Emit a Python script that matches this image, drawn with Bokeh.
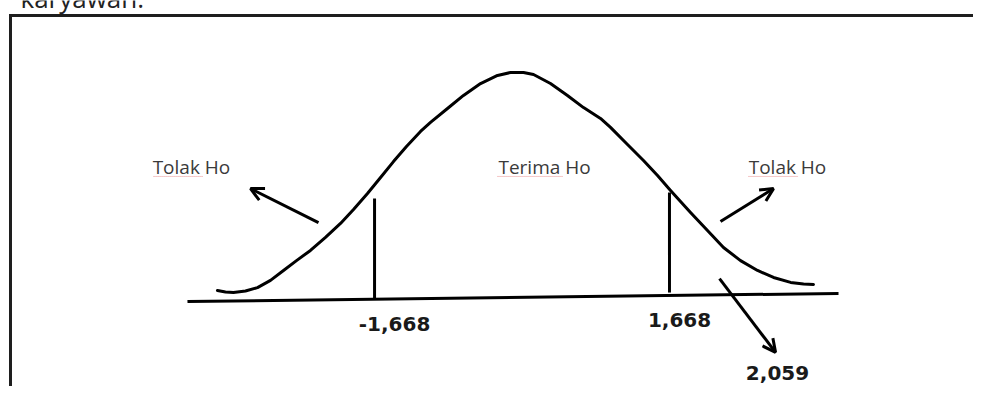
from bokeh.plotting import figure
from bokeh.models import Range1d, Arrow, OpenHead, ColumnDataSource, Label
from bokeh.core.properties import value
from bokeh.embed import file_html
from bokeh.resources import INLINE

# ---- data (x in t units, y as relative height of the curve) ----
curve_t = [-3.445, -3.354, -3.264, -3.128, -2.992, -2.845, -2.698, -2.551, -2.393,
           -2.223, -2.053, -1.906, -1.748, -1.600, -1.454, -1.307, -1.148, -1.035,
           -0.843, -0.662, -0.469, -0.277, -0.130, 0.017, 0.130, 0.322, 0.514,
           0.696, 0.888, 1.001, 1.193, 1.374, 1.533, 1.680, 1.793, 1.906, 2.098,
           2.279, 2.472, 2.664, 2.845, 3.038, 3.185, 3.297]
curve_h = [0.031, 0.024, 0.022, 0.029, 0.044, 0.076, 0.120, 0.164, 0.209,
           0.267, 0.329, 0.391, 0.462, 0.533, 0.604, 0.671, 0.738, 0.778,
           0.840, 0.898, 0.951, 0.987, 1.000, 1.000, 0.991, 0.951, 0.898,
           0.844, 0.796, 0.756, 0.680, 0.609, 0.542, 0.476, 0.427, 0.378, 0.298,
           0.222, 0.164, 0.120, 0.089, 0.067, 0.060, 0.058]

t_critical = [-1.668, 1.668]          # critical values (drawn as vertical lines)
critical_top = [0.440, 0.467]
critical_bottom = [-0.004, 0.022]
t_table = 2.059                        # value pointed to by the lower arrow

baseline_t = [-3.784, 3.580]
baseline_h = [-0.018, 0.018]

region_labels = ["Tolak Ho", "Terima Ho", "Tolak Ho"]
region_label_t = [-3.739, 0.255, 3.003]
region_label_h = [0.582, 0.582, 0.582]
underline_t0 = [-4.168, -0.277, 2.562]
underline_t1 = [-3.603, 0.458, 3.128]

value_labels = ["-1,668", "1,668", "2,059"]
value_label_t = [-1.442, 1.782, 2.890]
value_label_h = [-0.120, -0.102, -0.336]

arrow_t0 = [-2.302, 2.245, 2.234]
arrow_h0 = [0.333, 0.338, 0.084]
arrow_t1 = [-3.071, 2.845, 2.868]
arrow_h1 = [0.484, 0.484, -0.244]

caption = "karyawan."

# ---- figure ----
p = figure(width=973, height=386, output_backend="svg", toolbar_location=None,
           x_range=Range1d(-5.899, 5.107), y_range=Range1d(-0.3956, 1.32),
           x_axis_type=None, y_axis_type=None,
           min_border=0, min_border_left=0, min_border_right=0,
           min_border_top=0, min_border_bottom=0)
p.grid.visible = False
p.outline_line_color = None
p.background_fill_color = "white"
p.border_fill_color = "white"

# cut-off caption line of the page above the picture (only its lower edge shows)
p.add_layout(Label(x=20, y=389, x_units="screen", y_units="screen", text=caption,
                   text_font="Open Sans", text_font_size="26px",
                   text_color="#222222", text_align="left",
                   text_baseline="alphabetic"))

# frame box of the picture (top and left edges visible)
p.line([-5.786, -5.786, 5.107], [-0.3956, 1.2533, 1.2533], line_color="#1e1e1e",
       line_width=3, line_join="miter")

# base line
p.line(baseline_t, baseline_h, line_color="black", line_width=3)

# bell curve
p.line(curve_t, curve_h, line_color="black", line_width=3,
       line_join="round", line_cap="round")

# critical value lines
p.segment(x0=t_critical, y0=critical_bottom, x1=t_critical, y1=critical_top,
          line_color="black", line_width=3)

# arrows
asrc = ColumnDataSource(dict(x0=arrow_t0, y0=arrow_h0, x1=arrow_t1, y1=arrow_h1))
p.add_layout(Arrow(source=asrc, x_start="x0", y_start="y0", x_end="x1", y_end="y1",
                   line_width=3, line_color="black",
                   end=OpenHead(size=13, line_width=3, line_color="black")))

# spell-check underline under "Tolak" / "Terima"
p.segment(x0=underline_t0, y0=[0.538] * 3, x1=underline_t1, y1=[0.538] * 3,
          line_color="#e06060", line_width=1, line_dash="1 1", line_alpha=0.7)

# region labels
p.text(x=region_label_t, y=region_label_h, text=region_labels,
       text_font=value("Open Sans"), text_font_size="19px", text_color="#3a3a3a",
       text_align="center", text_baseline="middle")

# value labels
p.text(x=value_label_t, y=value_label_h, text=value_labels,
       text_font=value("DejaVu Sans"), text_font_style="bold",
       text_font_size="20px", text_color="#1a1a1a",
       text_align="center", text_baseline="middle")

open("out.html", "w").write(file_html(p, INLINE))
